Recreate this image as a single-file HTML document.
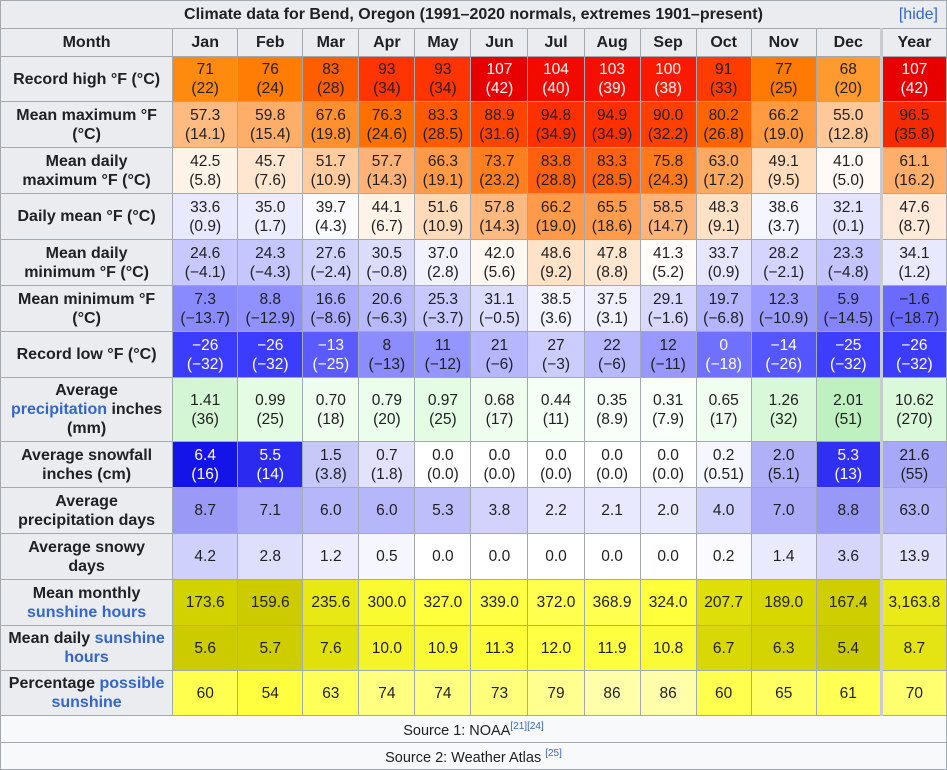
<!DOCTYPE html>
<html><head><meta charset="utf-8"><style>
body{margin:0;background:#fff;width:947px;height:769px;overflow:hidden;font-family:"Liberation Sans",Arial,sans-serif;}
table{border-collapse:collapse;table-layout:fixed;width:947px;font-size:15.5px;color:#202122;}
td,th{border:1px solid #a2a9b1;padding:0;text-align:center;line-height:19px;overflow:hidden;}
th{background:#eaecf0;font-weight:bold;font-size:16px;padding:0 1px;white-space:nowrap;}
tr.t td,tr.t th{height:45px}
tr.s td,tr.s th{height:44px}
.y{border-left:3px solid #c8ccd1 !important;}
.w{color:#fff}
a{color:#3366cc;text-decoration:none}
.cap{height:27px;background:#eaecf0;font-weight:bold;position:relative}
.src td{background:#f8f9fa;height:26px;font-size:14.5px}
sup{font-size:10px;color:#3366cc}
</style></head><body>
<table>
<colgroup><col style="width:172px"><col style="width:65px"><col style="width:65px"><col style="width:56px"><col style="width:56px"><col style="width:56px"><col style="width:57px"><col style="width:56px"><col style="width:56px"><col style="width:56px"><col style="width:55px"><col style="width:65px"><col style="width:65px"><col style="width:65px"></colgroup>
<tr><th colspan="14" class="cap">Climate data for Bend, Oregon (1991–2020 normals, extremes 1901–present)<span style="position:absolute;right:8px;top:4px;font-weight:normal;color:#3366cc">[hide]</span></th></tr>
<tr><th style="height:27px">Month</th><th>Jan</th><th>Feb</th><th>Mar</th><th>Apr</th><th>May</th><th>Jun</th><th>Jul</th><th>Aug</th><th>Sep</th><th>Oct</th><th>Nov</th><th>Dec</th><th class="y">Year</th></tr>
<tr class="s"><th>Record high °F (°C)</th><td style="background:#ff8a10">71<br>(22)</td><td style="background:#ff7c05">76<br>(24)</td><td style="background:#ff5e00">83<br>(28)</td><td style="background:#ff3400">93<br>(34)</td><td style="background:#ff3400">93<br>(34)</td><td class="w" style="background:#e80000">107<br>(42)</td><td class="w" style="background:#f20a00">104<br>(40)</td><td class="w" style="background:#f50f00">103<br>(39)</td><td class="w" style="background:#fa1a00">100<br>(38)</td><td style="background:#ff3c00">91<br>(33)</td><td style="background:#ff7a05">77<br>(25)</td><td style="background:#ff9a30">68<br>(20)</td><td class="w y" style="background:#e80000">107<br>(42)</td></tr>
<tr class="t"><th>Mean maximum °F<br>(°C)</th><td style="background:#ffba80">57.3<br>(14.1)</td><td style="background:#ffae6a">59.8<br>(15.4)</td><td style="background:#ff9030">67.6<br>(19.8)</td><td style="background:#ff7000">76.3<br>(24.6)</td><td style="background:#ff5a00">83.3<br>(28.5)</td><td style="background:#ff4400">88.9<br>(31.6)</td><td style="background:#ff3000">94.8<br>(34.9)</td><td style="background:#ff3000">94.9<br>(34.9)</td><td style="background:#ff4000">90.0<br>(32.2)</td><td style="background:#ff6400">80.2<br>(26.8)</td><td style="background:#ff9a40">66.2<br>(19.0)</td><td style="background:#ffc898">55.0<br>(12.8)</td><td class="y" style="background:#f52a00">96.5<br>(35.8)</td></tr>
<tr class="t"><th>Mean daily<br>maximum °F (°C)</th><td style="background:#fff2e6">42.5<br>(5.8)</td><td style="background:#ffe6d0">45.7<br>(7.6)</td><td style="background:#ffcca0">51.7<br>(10.9)</td><td style="background:#ffb278">57.7<br>(14.3)</td><td style="background:#ff9a48">66.3<br>(19.1)</td><td style="background:#ff7e20">73.7<br>(23.2)</td><td style="background:#ff6010">83.8<br>(28.8)</td><td style="background:#ff6212">83.3<br>(28.5)</td><td style="background:#ff7a1c">75.8<br>(24.3)</td><td style="background:#ffa860">63.0<br>(17.2)</td><td style="background:#ffdcbc">49.1<br>(9.5)</td><td style="background:#fffaf5">41.0<br>(5.0)</td><td class="y" style="background:#ffae6c">61.1<br>(16.2)</td></tr>
<tr class="t"><th>Daily mean °F (°C)</th><td style="background:#e8e8ff">33.6<br>(0.9)</td><td style="background:#ececff">35.0<br>(1.7)</td><td style="background:#fafaff">39.7<br>(4.3)</td><td style="background:#fff3e8">44.1<br>(6.7)</td><td style="background:#ffdab8">51.6<br>(10.9)</td><td style="background:#ffb87e">57.8<br>(14.3)</td><td style="background:#ff9a4a">66.2<br>(19.0)</td><td style="background:#ff9c4e">65.5<br>(18.6)</td><td style="background:#ffb47a">58.5<br>(14.7)</td><td style="background:#ffe2c6">48.3<br>(9.1)</td><td style="background:#f6f6ff">38.6<br>(3.7)</td><td style="background:#e4e4ff">32.1<br>(0.1)</td><td class="y" style="background:#ffeada">47.6<br>(8.7)</td></tr>
<tr class="t"><th>Mean daily<br>minimum °F (°C)</th><td style="background:#c8c8ff">24.6<br>(−4.1)</td><td style="background:#c6c6ff">24.3<br>(−4.3)</td><td style="background:#d2d2ff">27.6<br>(−2.4)</td><td style="background:#dcdcff">30.5<br>(−0.8)</td><td style="background:#f2f2ff">37.0<br>(2.8)</td><td style="background:#fff8f2">42.0<br>(5.6)</td><td style="background:#ffe2c8">48.6<br>(9.2)</td><td style="background:#ffe6d0">47.8<br>(8.8)</td><td style="background:#fffcfa">41.3<br>(5.2)</td><td style="background:#e6e6ff">33.7<br>(0.9)</td><td style="background:#d4d4ff">28.2<br>(−2.1)</td><td style="background:#c4c4ff">23.3<br>(−4.8)</td><td class="y" style="background:#e8e8ff">34.1<br>(1.2)</td></tr>
<tr class="t"><th>Mean minimum °F<br>(°C)</th><td style="background:#8a8aff">7.3<br>(−13.7)</td><td style="background:#9090ff">8.8<br>(−12.9)</td><td style="background:#aaaaff">16.6<br>(−8.6)</td><td style="background:#b8b8ff">20.6<br>(−6.3)</td><td style="background:#c8c8ff">25.3<br>(−3.7)</td><td style="background:#dcdcff">31.1<br>(−0.5)</td><td style="background:#f4f4ff">38.5<br>(3.6)</td><td style="background:#f0f0ff">37.5<br>(3.1)</td><td style="background:#d8d8ff">29.1<br>(−1.6)</td><td style="background:#b4b4ff">19.7<br>(−6.8)</td><td style="background:#9c9cff">12.3<br>(−10.9)</td><td style="background:#8484ff">5.9<br>(−14.5)</td><td class="y" style="background:#6a6aff">−1.6<br>(−18.7)</td></tr>
<tr class="t"><th>Record low °F (°C)</th><td class="w" style="background:#3c3cff">−26<br>(−32)</td><td class="w" style="background:#3c3cff">−26<br>(−32)</td><td class="w" style="background:#5a5aff">−13<br>(−25)</td><td style="background:#8c8cff">8<br>(−13)</td><td style="background:#9595ff">11<br>(−12)</td><td style="background:#b6b6ff">21<br>(−6)</td><td style="background:#ccccff">27<br>(−3)</td><td style="background:#b8b8ff">22<br>(−6)</td><td style="background:#9898ff">12<br>(−11)</td><td class="w" style="background:#7070ff">0<br>(−18)</td><td class="w" style="background:#5656ff">−14<br>(−26)</td><td class="w" style="background:#3e3eff">−25<br>(−32)</td><td class="w y" style="background:#3c3cff">−26<br>(−32)</td></tr>
<tr><th style="height:63px">Average<br><a>precipitation</a> inches<br>(mm)</th><td style="background:#d4f6d4">1.41<br>(36)</td><td style="background:#e4fbe4">0.99<br>(25)</td><td style="background:#eefdee">0.70<br>(18)</td><td style="background:#ebfdeb">0.79<br>(20)</td><td style="background:#e4fbe4">0.97<br>(25)</td><td style="background:#eefdee">0.68<br>(17)</td><td style="background:#f6fff6">0.44<br>(11)</td><td style="background:#f8fff8">0.35<br>(8.9)</td><td style="background:#f9fff9">0.31<br>(7.9)</td><td style="background:#effeef">0.65<br>(17)</td><td style="background:#d9f8d9">1.26<br>(32)</td><td style="background:#bff0bf">2.01<br>(51)</td><td class="y" style="background:#daf8da">10.62<br>(270)</td></tr>
<tr class="t"><th>Average snowfall<br>inches (cm)</th><td class="w" style="background:#1414e8">6.4<br>(16)</td><td class="w" style="background:#2a2af0">5.5<br>(14)</td><td style="background:#c8c8f8">1.5<br>(3.8)</td><td style="background:#e2e2fc">0.7<br>(1.8)</td><td style="background:#fff">0.0<br>(0.0)</td><td style="background:#fff">0.0<br>(0.0)</td><td style="background:#fff">0.0<br>(0.0)</td><td style="background:#fff">0.0<br>(0.0)</td><td style="background:#fff">0.0<br>(0.0)</td><td style="background:#f6f6ff">0.2<br>(0.51)</td><td style="background:#b0b0f8">2.0<br>(5.1)</td><td class="w" style="background:#3030f2">5.3<br>(13)</td><td class="y" style="background:#a8a8f8">21.6<br>(55)</td></tr>
<tr class="t"><th>Average<br>precipitation days</th><td style="background:#9a9af6">8.7</td><td style="background:#aaaaf8">7.1</td><td style="background:#b6b6fa">6.0</td><td style="background:#b6b6fa">6.0</td><td style="background:#bebefa">5.3</td><td style="background:#d2d2fc">3.8</td><td style="background:#e6e6fe">2.2</td><td style="background:#e8e8fe">2.1</td><td style="background:#eaeafe">2.0</td><td style="background:#d0d0fc">4.0</td><td style="background:#aaaaf8">7.0</td><td style="background:#9898f6">8.8</td><td class="y" style="background:#b4b4fa">63.0</td></tr>
<tr class="t"><th>Average snowy<br>days</th><td style="background:#d0d0fc">4.2</td><td style="background:#dedefd">2.8</td><td style="background:#ececfe">1.2</td><td style="background:#f6f6ff">0.5</td><td style="background:#fff">0.0</td><td style="background:#fff">0.0</td><td style="background:#fff">0.0</td><td style="background:#fff">0.0</td><td style="background:#fff">0.0</td><td style="background:#fafaff">0.2</td><td style="background:#eaeafe">1.4</td><td style="background:#d6d6fc">3.6</td><td class="y" style="background:#e2e2fd">13.9</td></tr>
<tr class="t"><th>Mean monthly<br><a>sunshine hours</a></th><td style="background:#d2d200">173.6</td><td style="background:#cbcb00">159.6</td><td style="background:#e8e814">235.6</td><td style="background:#fafa30">300.0</td><td style="background:#ffff3c">327.0</td><td style="background:#ffff44">339.0</td><td style="background:#ffff50">372.0</td><td style="background:#ffff50">368.9</td><td style="background:#ffff3c">324.0</td><td style="background:#dede08">207.7</td><td style="background:#d8d800">189.0</td><td style="background:#cece00">167.4</td><td class="y" style="background:#eaea18">3,163.8</td></tr>
<tr class="s"><th>Mean daily <a>sunshine<br>hours</a></th><td style="background:#cbcb00">5.6</td><td style="background:#cdcd00">5.7</td><td style="background:#e0e00c">7.6</td><td style="background:#f4f428">10.0</td><td style="background:#fafa34">10.9</td><td style="background:#fcfc38">11.3</td><td style="background:#ffff44">12.0</td><td style="background:#ffff42">11.9</td><td style="background:#fafa36">10.8</td><td style="background:#d8d806">6.7</td><td style="background:#d4d402">6.3</td><td style="background:#caca00">5.4</td><td class="y" style="background:#e4e414">8.7</td></tr>
<tr class="s"><th>Percentage <a>possible<br>sunshine</a></th><td style="background:#ffff50">60</td><td style="background:#ffff40">54</td><td style="background:#ffff5a">63</td><td style="background:#ffff80">74</td><td style="background:#ffff80">74</td><td style="background:#ffff7c">73</td><td style="background:#ffff90">79</td><td style="background:#ffffaa">86</td><td style="background:#ffffaa">86</td><td style="background:#ffff50">60</td><td style="background:#ffff62">65</td><td style="background:#ffff54">61</td><td class="y" style="background:#ffff70">70</td></tr>
<tr class="src"><td colspan="14">Source 1: NOAA<sup>[21][24]</sup></td></tr>
<tr class="src"><td colspan="14">Source 2: Weather Atlas <sup>[25]</sup></td></tr>
</table>
</body></html>
